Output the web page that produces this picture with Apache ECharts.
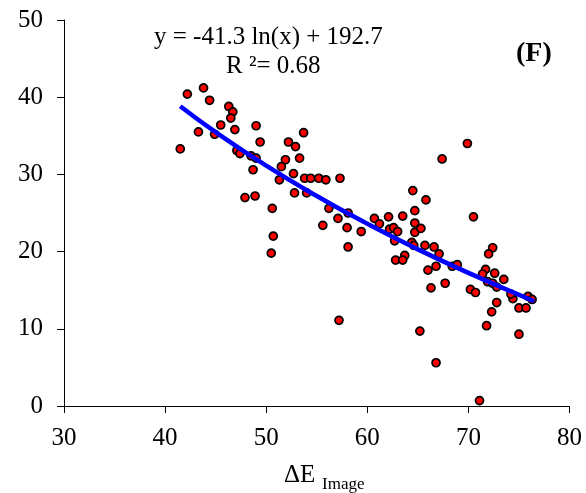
<!DOCTYPE html>
<html>
<head>
<meta charset="utf-8">
<script src="https://cdn.jsdelivr.net/npm/echarts@6/dist/echarts.min.js"></script>
<style>
html,body{margin:0;padding:0;background:#fff;}
#chart{width:586px;height:493px;}
</style>
</head>
<body>
<div id="chart"></div>
<script>
// Scatter points: Delta E Image (x) vs value (y)
var xVals = [
  42.2, 43.8, 44.4, 41.5, 43.3, 44.9, 45.5, 46.3, 46.7, 46.5,
  46.9, 47.1, 47.4, 49.0, 49.4, 48.5, 49.0, 48.7, 47.9, 48.9,
  50.6, 51.3, 51.5, 51.9, 52.2, 52.9, 52.7, 52.8,
  53.7, 53.3, 53.8, 54.4, 54.0, 55.2, 55.9, 57.3, 56.2, 57.1,
  58.1, 55.6, 58.0, 59.4, 58.1, 60.7, 61.2, 62.1, 62.2, 62.6,
  63.0, 63.5, 62.7, 64.5, 64.7, 64.7, 64.7, 65.3, 64.4, 64.6,
  65.7, 65.8, 62.8, 63.7, 63.5, 66.0,
  69.9, 67.4, 70.5, 66.6, 67.1, 66.8, 68.4, 68.9, 72.4, 72.0,
  71.7, 71.4, 72.6, 73.5,
  50.7, 50.5, 57.2,
  66.3, 67.7, 65.2, 71.9, 72.4, 72.8, 70.2, 70.7, 72.8, 72.3,
  71.8, 74.4, 74.2, 75.0, 75.7, 75.9, 76.3, 75.0, 66.8, 71.1
];
var yVals = [
  40.4, 41.2, 39.6, 33.3, 35.5, 35.2, 36.4, 38.8, 38.1, 37.3,
  35.8, 33.1, 32.7, 36.3, 34.2, 32.4, 32.1, 30.6, 27.0, 27.2,
  25.6, 29.3, 31.0, 31.9, 34.2, 33.6, 30.1, 27.6,
  35.4, 32.1, 29.5, 29.5, 27.6, 29.5, 29.3, 29.5, 25.6, 24.3,
  25.0, 23.4, 23.1, 22.6, 20.6, 24.3, 23.6, 24.5, 22.9, 23.1,
  22.6, 24.6, 21.4, 27.9, 25.3, 23.7, 22.5, 23.0, 21.2, 20.8,
  20.8, 26.7, 18.9, 19.5, 18.9, 17.6,
  34.0, 32.0, 24.5, 20.6, 19.7, 18.1, 18.1, 18.3, 20.5, 19.7,
  17.7, 17.1, 17.2, 16.4,
  22.0, 19.8, 11.1,
  15.3, 15.9, 9.7, 16.1, 15.9, 15.4, 15.1, 14.7, 13.4, 12.2,
  10.4, 13.9, 14.5, 12.7, 12.7, 14.2, 13.8, 9.3, 5.6, 0.7
];
// Trend line (y = -41.3 ln(x) + 192.7)
var trendX = [41.5, 45, 50, 55, 60, 65, 70, 76.5];
var trendY = [38.83, 35.48, 31.13, 27.20, 23.60, 20.29, 17.24, 13.57];

var xTicks = [30, 40, 50, 60, 70, 80];
var yTicks = [0, 10, 20, 30, 40, 50];

var equationText = 'y = -41.3 ln(x) + 192.7';
var r2Text = 'R \u00B2= 0.68';
var panelLabel = '(F)';
var xNameMain = '\u0394E';
var xNameSub = 'Image';

var points = xVals.map(function (x, i) { return [x, yVals[i]]; });
var trend = trendX.map(function (x, i) { return [x, trendY[i]]; });

var FONT = '"Liberation Serif", "Times New Roman", serif';
var chart = echarts.init(document.getElementById('chart'), null, {renderer: 'canvas'});
chart.setOption({
  animation: false,
  backgroundColor: '#ffffff',
  grid: {left: 64, right: 16.5, top: 20, bottom: 87, containLabel: false},
  xAxis: {
    type: 'value',
    min: xTicks[0], max: xTicks[xTicks.length - 1], interval: 10,
    axisLine: {show: true, onZero: false, lineStyle: {color: '#000', width: 1}},
    axisTick: {show: true, length: 7, lineStyle: {color: '#000', width: 1}},
    axisLabel: {color: '#000', fontFamily: FONT, fontSize: 25, margin: 20},
    splitLine: {show: false}
  },
  yAxis: {
    type: 'value',
    min: yTicks[0], max: yTicks[yTicks.length - 1], interval: 10,
    axisLine: {show: true, onZero: false, lineStyle: {color: '#000', width: 1}},
    axisTick: {show: true, length: 7, lineStyle: {color: '#000', width: 1}},
    axisLabel: {color: '#000', fontFamily: FONT, fontSize: 25, margin: 21},
    splitLine: {show: false}
  },
  series: [
    {
      type: 'scatter',
      data: points,
      symbol: 'circle',
      symbolSize: 8,
      itemStyle: {color: '#ff0000', borderColor: '#000', borderWidth: 1.7, opacity: 1},
      z: 2
    },
    {
      type: 'line',
      data: trend,
      smooth: true,
      showSymbol: false,
      symbol: 'none',
      lineStyle: {color: '#0000ff', width: 4.5},
      z: 3
    }
  ],
  graphic: [
    {type: 'text', left: 154, top: 24.5,
      style: {text: equationText, font: '25px ' + FONT, fill: '#000'}},
    {type: 'text', left: 226, top: 54,
      style: {text: r2Text, font: '25px ' + FONT, fill: '#000'}},
    {type: 'text', left: 516, top: 40,
      style: {text: panelLabel, font: 'bold 28px ' + FONT, fill: '#000'}},
    {type: 'text', left: 284, top: 462.5,
      style: {text: xNameMain, font: '25px ' + FONT, fill: '#000'}},
    {type: 'text', left: 322, top: 476,
      style: {text: xNameSub, font: '17px ' + FONT, fill: '#000'}}
  ]
});
</script>
</body>
</html>
